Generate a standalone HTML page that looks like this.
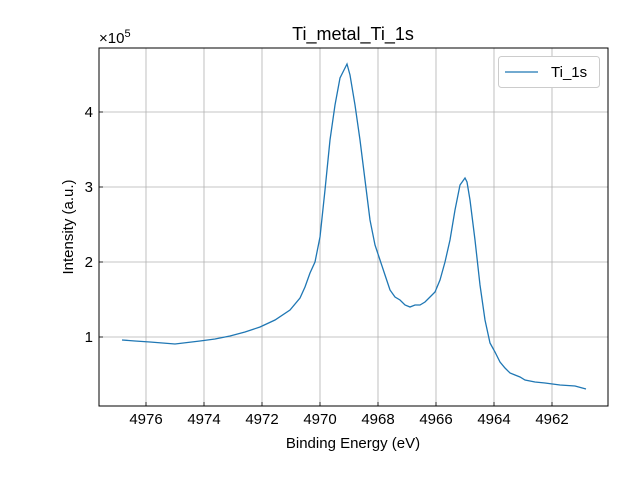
<!DOCTYPE html>
<html><head><meta charset="utf-8"><style>
body{margin:0;background:#fff}
svg{font-family:"Liberation Sans","DejaVu Sans",sans-serif}
</style></head><body>
<svg width="640" height="480" viewBox="0 0 640 480" xmlns="http://www.w3.org/2000/svg">
<rect width="640" height="480" fill="#fff"/>
<g stroke="#b0b0b0" stroke-width="0.8">
<line x1="146" y1="48" x2="146" y2="406"/><line x1="204" y1="48" x2="204" y2="406"/>
<line x1="262" y1="48" x2="262" y2="406"/><line x1="320" y1="48" x2="320" y2="406"/>
<line x1="378" y1="48" x2="378" y2="406"/><line x1="436" y1="48" x2="436" y2="406"/>
<line x1="494" y1="48" x2="494" y2="406"/><line x1="552" y1="48" x2="552" y2="406"/>
<line x1="99" y1="337" x2="608" y2="337"/><line x1="99" y1="262" x2="608" y2="262"/>
<line x1="99" y1="187" x2="608" y2="187"/><line x1="99" y1="112" x2="608" y2="112"/>
</g>
<polyline fill="none" stroke="#1f77b4" stroke-width="1.3" points="122,340 135,341 150,342 175,344 200,341 215,339 230,336 245,332 260,327 275,320 290,310 300,298 305,287 310,273 315,262 320,237 325,190 330,140 335,105 340,78 345,68 347,64 350,75 355,105 360,140 365,180 370,220 375,245 380,260 385,275 390,290 395,297 400,300 405,305 410,307 415,305 420,305 425,302 430,297 435,292 440,280 445,262 450,240 455,210 460,185 465,178 467,182 470,200 475,240 480,285 485,320 490,343 495,352 500,362 505,368 510,373 515,375 520,377 525,380 535,382 545,383 560,385 575,386 586,389"/>
<rect x="99" y="48" width="509" height="358" fill="none" stroke="#000" stroke-width="1"/>
<g stroke="#000" stroke-width="0.8">
<line x1="146" y1="406" x2="146" y2="402"/><line x1="204" y1="406" x2="204" y2="402"/>
<line x1="262" y1="406" x2="262" y2="402"/><line x1="320" y1="406" x2="320" y2="402"/>
<line x1="378" y1="406" x2="378" y2="402"/><line x1="436" y1="406" x2="436" y2="402"/>
<line x1="494" y1="406" x2="494" y2="402"/><line x1="552" y1="406" x2="552" y2="402"/>
<line x1="99" y1="337" x2="103" y2="337"/><line x1="99" y1="262" x2="103" y2="262"/>
<line x1="99" y1="187" x2="103" y2="187"/><line x1="99" y1="112" x2="103" y2="112"/>
</g>
<g font-size="15" text-anchor="middle" fill="#000">
<text x="146" y="424">4976</text><text x="204" y="424">4974</text><text x="262" y="424">4972</text>
<text x="320" y="424">4970</text><text x="378" y="424">4968</text><text x="436" y="424">4966</text>
<text x="494" y="424">4964</text><text x="552" y="424">4962</text>
<text x="353" y="448">Binding Energy (eV)</text>
<text x="353" y="40" font-size="18">Ti_metal_Ti_1s</text>
</g>
<g font-size="15" text-anchor="end">
<text x="93" y="342">1</text><text x="93" y="267">2</text><text x="93" y="192">3</text><text x="93" y="117">4</text>
</g>
<text x="99" y="43" font-size="15">×10<tspan font-size="11" dy="-6">5</tspan></text>
<text transform="translate(73,227) rotate(-90)" font-size="15" text-anchor="middle">Intensity (a.u.)</text>
<rect x="498.5" y="56.5" width="101" height="31" rx="3" fill="#fff" stroke="#ccc"/>
<line x1="505" y1="72" x2="538" y2="72" stroke="#1f77b4" stroke-width="1.3"/>
<text x="551" y="77" font-size="15">Ti_1s</text>
</svg>
</body></html>
